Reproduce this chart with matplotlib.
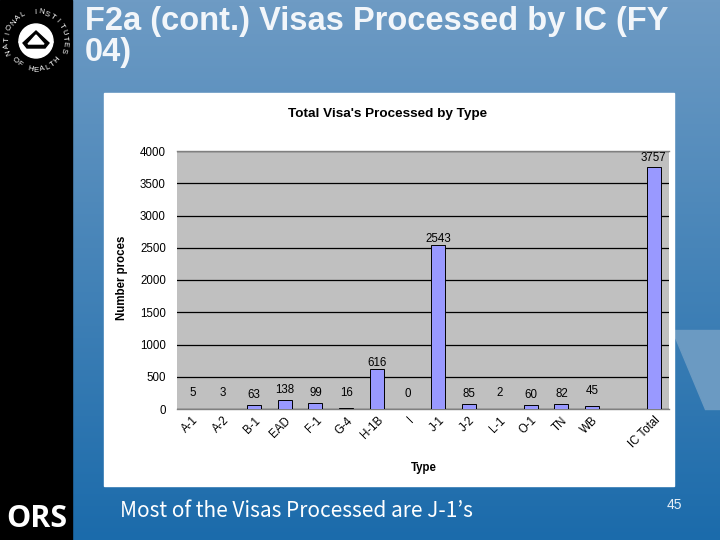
import numpy as np
import matplotlib
matplotlib.use("Agg")
import matplotlib.pyplot as plt
from matplotlib.patches import Polygon, Circle

categories = ["A-1","A-2","B-1","EAD","F-1","G-4","H-1B","I","J-1","J-2","L-1","O-1","TN","WB","","IC Total"]
values = [5,3,63,138,99,16,616,0,2543,85,2,60,82,45,None,3757]
y_ticks = [0,500,1000,1500,2000,2500,3000,3500,4000]
title = "F2a (cont.) Visas Processed by IC (FY\n04)"
chart_title = "Total Visa's Processed by Type"
y_label = "Number proces"
x_label = "Type"
caption = "Most of the Visas Processed are J-1’s"
page = "45"

W, H = 720, 540
fig = plt.figure(figsize=(W/100, H/100), dpi=100)

# Slide background
bg = fig.add_axes([0, 0, 1, 1], zorder=0)
bg.set_xlim(0, W); bg.set_ylim(H, 0); bg.axis("off")
top = np.array([0x6e, 0x9b, 0xc4]) / 255
bot = np.array([0x1b, 0x6b, 0xab]) / 255
t = np.linspace(0, 1, 270)[:, None, None]
bg.imshow(top + (bot - top) * t, extent=[0, W, H, 0], aspect="auto", zorder=0)
bg.set_xlim(0, W); bg.set_ylim(H, 0)
bg.add_patch(Polygon([[672, 330], [720, 330], [720, 409], [705, 409]], color="#6b9ac2", zorder=1))
bg.add_patch(Polygon([[0, 0], [72, 0], [72, H], [0, H]], color="black", zorder=2))
bg.add_patch(Polygon([[104, 93], [674, 93], [674, 486], [104, 486]], color="white", zorder=2))

# NIH logo
cx, cy = 36, 41
bg.add_patch(Circle((cx, cy), 17, color="white", zorder=3))
bg.add_patch(Polygon([[cx, cy-15], [cx+17, cy+1], [cx+11, cy+10], [cx-11, cy+10], [cx-17, cy+1]], color="white", zorder=3))
bg.add_patch(Circle((cx, cy), 17.5, fill=False, ec="black", lw=0, zorder=3))
bg.add_patch(Polygon([[cx, cy-10], [cx+13, cy+2], [cx+9, cy+7], [cx-9, cy+7], [cx-13, cy+2]], color="black", zorder=4))
bg.add_patch(Polygon([[cx, cy-6], [cx+8, cy+3], [cx-8, cy+3]], color="white", zorder=5))
logo_text = "NATIONAL INSTITUTES OF HEALTH"
angles_top = np.linspace(-108, 102, 18)
for ch, a in zip("NATIONAL INSTITUTES", np.linspace(-112, 108, 19)):
    r = 29
    bg.text(cx + r*np.sin(np.radians(a)), cy - r*np.cos(np.radians(a)), ch, color="white",
            fontsize=5.6, family="Liberation Sans", rotation=-a, ha="center", va="center", zorder=6)
for ch, a in zip("OF HEALTH", np.linspace(-48, 48, 9)):
    r = 29
    bg.text(cx + r*np.sin(np.radians(a))*1.0, cy + r*np.cos(np.radians(a)), ch, color="white",
            fontsize=5.6, family="Liberation Sans", rotation=a, ha="center", va="center", zorder=6)

bg.text(6, 519, "ORS", color="white", fontsize=22, fontweight="bold", family="Open Sans",
        ha="left", va="center", zorder=6)

bg.text(85, 37, title, color="#f2f6fa", fontsize=23.5, fontweight="bold", family="Liberation Sans",
        ha="left", va="center", linespacing=1.0, zorder=6)
bg.text(120, 511, caption, color="white", fontsize=15, family="Noto Sans CJK JP",
        ha="left", va="center", zorder=6)
bg.text(674, 505, page, color="#e8f0f7", fontsize=10, family="Liberation Sans",
        ha="center", va="center", zorder=6)

# Chart
L, R, T, B = 177, 669, 151, 409
ax = fig.add_axes([L/W, 1 - B/H, (R-L)/W, (B-T)/H], zorder=1)
ax.set_facecolor("#c0c0c0")
x = np.arange(len(categories))
ax.set_xlim(-0.5, len(categories) - 0.5)
ax.set_ylim(0, 4000)
ax.set_yticks(y_ticks)
ax.set_axisbelow(True)
ax.yaxis.grid(True, color="black", lw=0.9)
for s in ax.spines.values():
    s.set_color("#808080"); s.set_linewidth(1)
ax.spines["left"].set_visible(False)
ax.spines["right"].set_visible(False)
ax.tick_params(axis="y", length=0, pad=8, labelsize=8.3)
ax.tick_params(axis="x", length=0, pad=4, labelsize=8.3)
plain = [0 if v is None else v for v in values]
ax.bar(x, plain, width=0.45, color="#9999ff", edgecolor="black", linewidth=0.7, zorder=3)
ax.set_xticks(x)
ax.set_xticklabels(categories, rotation=45, ha="right", rotation_mode="anchor", family="Liberation Sans")
for lab in ax.get_yticklabels():
    lab.set_family("Liberation Sans")
for xi, v in zip(x, values):
    if v is None:
        continue
    offset = 240 if v < 10 else 230 if v < 50 else 150
    if v > 500: offset = 90
    if xi == 15:
        ax.text(xi, 3890, str(v), ha="center", va="center", fontsize=8.3, family="Liberation Sans", zorder=4)
    else:
        ax.text(xi, v + offset, str(v), ha="center", va="center", fontsize=8.3, family="Liberation Sans", zorder=4)

bg.text(388, 114, chart_title, ha="center", va="center", fontsize=9.7, fontweight="bold",
        family="Liberation Sans", zorder=6)
bg.text(122, 278, y_label, ha="center", va="center", rotation=90, fontsize=8.3, fontweight="bold",
        family="Liberation Sans", zorder=6)
bg.text(424, 468, x_label, ha="center", va="center", fontsize=8.3, fontweight="bold",
        family="Liberation Sans", zorder=6)

fig.savefig("out.png", dpi=100)
